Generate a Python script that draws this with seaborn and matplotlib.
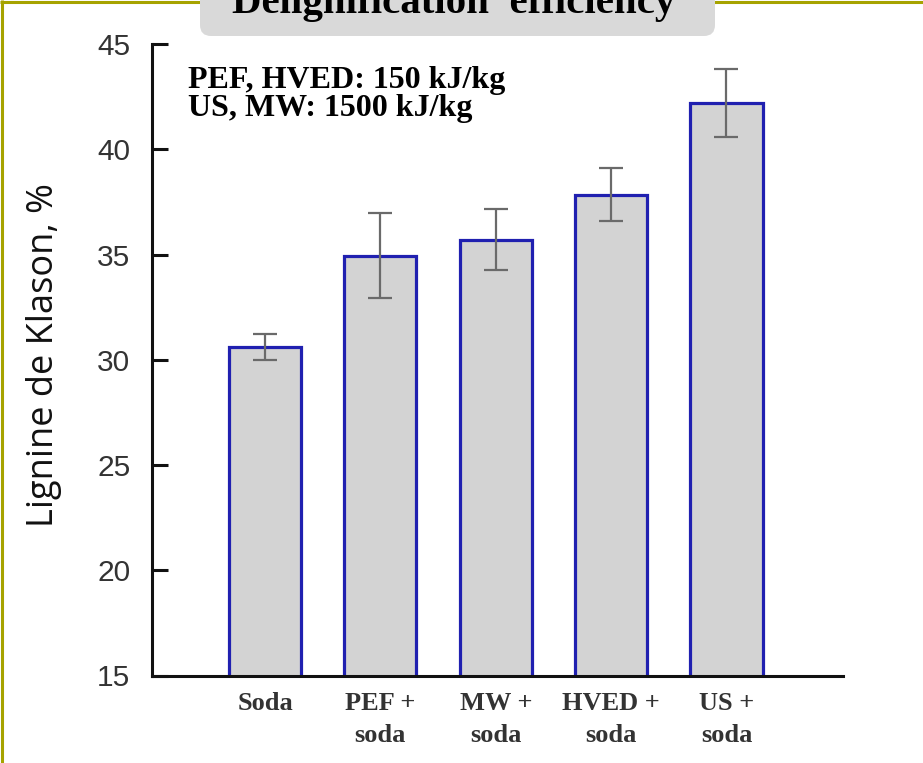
import matplotlib
matplotlib.use("Agg")
import matplotlib.pyplot as plt
import matplotlib.patches as mpatches
from matplotlib.lines import Line2D
from matplotlib.transforms import IdentityTransform
import seaborn as sns
import pandas as pd

# Klason lignin content after each pretreatment
categories = ["Soda", "PEF +\nsoda", "MW +\nsoda", "HVED +\nsoda", "US +\nsoda"]
lignin = [30.6, 34.95, 35.7, 37.85, 42.2]
lignin_err = [0.6, 2.0, 1.45, 1.25, 1.62]
y_ticks = [15, 20, 25, 30, 35, 40, 45]

title = "Delignification  efficiency"
energy_notes = ["PEF, HVED: 150 kJ/kg", "US, MW: 1500 kJ/kg"]
y_label = "Lignine de Klason, %"

sns.set_style("ticks")
plt.rcParams["font.family"] = ["Liberation Sans", "DejaVu Sans"]

W, H = 923, 763
fig = plt.figure(figsize=(W / 100, H / 100), dpi=100)
fig.patch.set_facecolor("white")
ax = fig.add_axes([152 / W, 87.5 / H, 691 / W, 631.5 / H])

df = pd.DataFrame({"treatment": categories, "lignin": lignin})
sns.barplot(data=df, x="treatment", y="lignin", ax=ax, color="#d3d3d3",
            saturation=1, edgecolor="#2020b0", linewidth=2.3, width=0.625,
            errorbar=None, zorder=2)
ax.errorbar(range(len(categories)), lignin, yerr=lignin_err, fmt="none",
            ecolor="#6a6a6a", elinewidth=1.6, capsize=8.6, capthick=1.6,
            zorder=3)

ax.set_ylim(15, 45)
ax.set_xlim(-0.98, 5.01)
ax.set_yticks(y_ticks)
ax.set_xlabel("")
ax.set_ylabel("")

for side in ("top", "right"):
    ax.spines[side].set_visible(False)
for side in ("left", "bottom"):
    ax.spines[side].set_linewidth(2.2)
    ax.spines[side].set_color("#111111")
    ax.spines[side].set_zorder(4)

ax.tick_params(axis="y", direction="in", length=11.5, width=2.2,
               color="#111111", pad=15.5, labelsize=21.5, labelcolor="#333333")
ax.tick_params(axis="x", length=0, pad=12, labelcolor="#333333")
for lab in ax.get_xticklabels():
    lab.set_fontfamily("Liberation Serif")
    lab.set_fontweight("bold")
    lab.set_fontsize(19)
    lab.set_linespacing(1.5)

# rotated axis title
fig.text(44 / W, 1 - 355 / H, y_label, rotation=90, ha="center", va="center",
         fontsize=26, family=["Open Sans", "DejaVu Sans"], color="#111111")

# energy input notes
for note, base in zip(energy_notes, (88, 116)):
    fig.text(188 / W, 1 - base / H, note, ha="left", va="baseline",
             fontsize=23, family="Liberation Serif", fontweight="bold",
             color="#000000")

# outer frame (left and top edges)
frame_kw = dict(color="#a6a300", linewidth=2.2, transform=IdentityTransform(),
                solid_capstyle="butt", zorder=5)
fig.add_artist(Line2D([1.5, 1.5], [0, H], **frame_kw))
fig.add_artist(Line2D([0, W], [H - 1.5, H - 1.5], **frame_kw))

# title banner, running off the top edge
banner = mpatches.FancyBboxPatch((200, H - 36), 515, 70,
                                 boxstyle="round,pad=0,rounding_size=11",
                                 facecolor="#d9d9d9", edgecolor="none",
                                 transform=IdentityTransform(), zorder=6)
fig.add_artist(banner)
fig.text(454 / W, 1 - 13 / H, title, ha="center", va="baseline",
         fontsize=29.5, family="Liberation Serif", fontweight="bold",
         color="#000000", zorder=7)

fig.savefig("out.png", dpi=100)
